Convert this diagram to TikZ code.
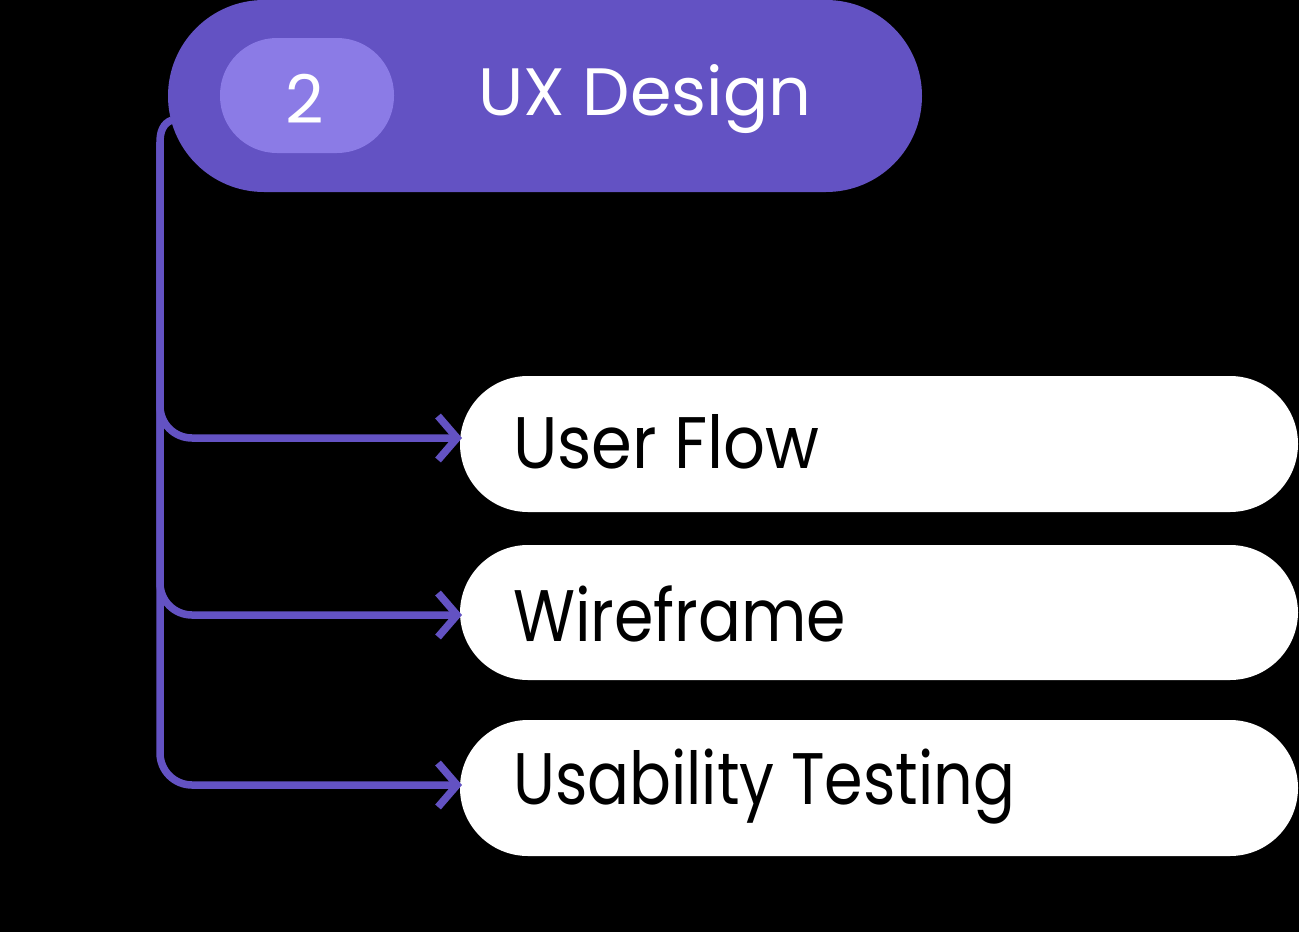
\documentclass[tikz,border=0pt]{standalone}
\usepackage{fontspec}
\setmainfont{Poppins}
\usetikzlibrary{arrows.meta}
\definecolor{ux}{HTML}{6352C3}
\definecolor{uxlight}{HTML}{8B7BE6}
\newcommand{\narrow}[2]{\scalebox{#1}[1]{#2}}
\tikzset{
  item/.style={fill=white, rounded corners=68pt, minimum width=838pt, minimum height=136pt, inner sep=0pt},
  itemtext/.style={font=\fontsize{73}{80}\selectfont, text=black, anchor=west, inner sep=0pt},
  headtext/.style={text=white, font=\fontsize{67}{72}\selectfont, inner sep=0pt},
  trunk/.style={draw=ux, line width=7.5pt},
  conn/.style={trunk, rounded corners=32pt, -{Straight Barb[length=19pt,width=44pt]}},
}
\begin{document}
\begin{tikzpicture}[x=1pt,y=-1pt]
\fill[black] (0,0) rectangle (1299,932);
\useasboundingbox (0,0) rectangle (1299,932);
\coordinate (start) at (172,120);
\coordinate (bend) at (160,142);
\coordinate (a1) at (462,438);
\coordinate (a2) at (462,615);
\coordinate (a3) at (462,785);
% header
\node[fill=ux, rounded corners=96pt, minimum width=754pt, minimum height=192pt, inner sep=0pt] (head) at (545,96) {};
\node[fill=uxlight, rounded corners=57pt, minimum width=174pt, minimum height=115pt, inner sep=0pt] (num) at (307,95.5) {};
\node[headtext] (numtext) at (305,99) {2};
\node[headtext, anchor=west] (title) at (478,99) {UX Design};
% items
\node[item] (i1) at (879,444) {};
\node[item, minimum height=135pt] (i2) at (879,612.5) {};
\node[item] (i3) at (879,788) {};
\node[itemtext] (t1) at (513,442) {\narrow{0.9}{User Flow}};
\node[itemtext] (t2) at (513,614) {\narrow{0.87}{Wireframe}};
\node[itemtext] (t3) at (513,787) {\narrow{0.85}{Usability Testing}};
% connectors
\draw[trunk] (start) to[out=200,in=90] (bend);
\draw[conn] (bend) |- (a1);
\draw[conn] (bend) |- (a2);
\draw[conn] (bend) |- (a3);
\end{tikzpicture}
\end{document}
